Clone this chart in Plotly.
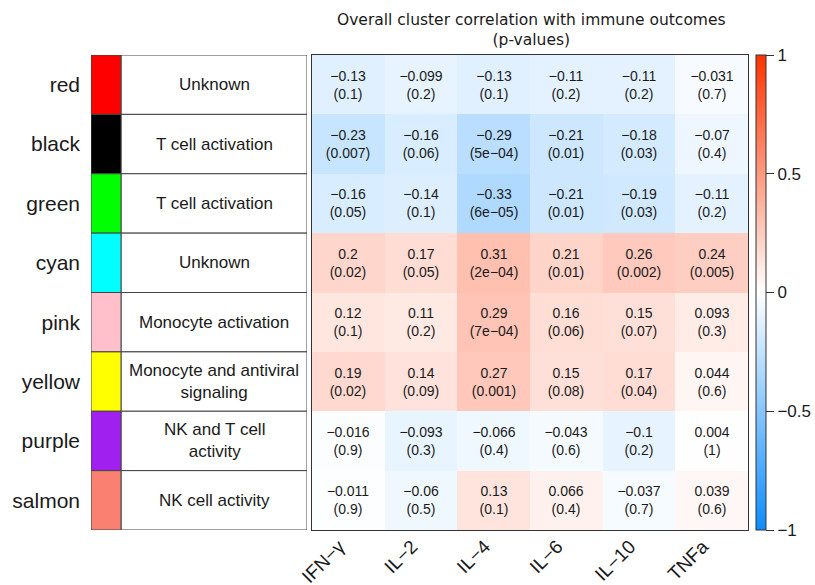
import plotly.graph_objects as go

W, H = 815, 585

modules = ["red", "black", "green", "cyan", "pink", "yellow", "purple", "salmon"]
module_colors = ["#FF0000", "#000000", "#00FF00", "#00FFFF", "#FFC0CB", "#FFFF00", "#A020F0", "#FA8072"]
descriptions = ["Unknown", "T cell activation", "T cell activation", "Unknown",
                "Monocyte activation", "Monocyte and antiviral<br>signaling",
                "NK and T cell<br>activity", "NK cell activity"]
cytokines = ["IFN−γ", "IL−2", "IL−4", "IL−6", "IL−10", "TNFa"]

corr = [
    [-0.13, -0.099, -0.13, -0.11, -0.11, -0.031],
    [-0.23, -0.16, -0.29, -0.21, -0.18, -0.07],
    [-0.16, -0.14, -0.33, -0.21, -0.19, -0.11],
    [0.2, 0.17, 0.31, 0.21, 0.26, 0.24],
    [0.12, 0.11, 0.29, 0.16, 0.15, 0.093],
    [0.19, 0.14, 0.27, 0.15, 0.17, 0.044],
    [-0.016, -0.093, -0.066, -0.043, -0.1, 0.004],
    [-0.011, -0.06, 0.13, 0.066, -0.037, 0.039],
]
pvals = [
    [0.1, 0.2, 0.1, 0.2, 0.2, 0.7],
    [0.007, 0.06, 0.0005, 0.01, 0.03, 0.4],
    [0.05, 0.1, 0.00006, 0.01, 0.03, 0.2],
    [0.02, 0.05, 0.0002, 0.01, 0.002, 0.005],
    [0.1, 0.2, 0.0007, 0.06, 0.07, 0.3],
    [0.02, 0.09, 0.001, 0.08, 0.04, 0.6],
    [0.9, 0.3, 0.4, 0.6, 0.2, 1],
    [0.9, 0.5, 0.1, 0.4, 0.7, 0.6],
]
cbar_ticks = [-1, -0.5, 0, 0.5, 1]

def fmt_r(v):
    return f"{v:g}".replace("-", "−")

def fmt_p(p):
    s = f"{p:.0e}" if p < 0.001 else f"{p:g}"
    return s.replace("-", "−")

text = [[f"{fmt_r(r)}<br>({fmt_p(p)})" for r, p in zip(rr, pp)] for rr, pp in zip(corr, pvals)]

def px(x):
    return x / W

def py(y):
    return 1 - y / H

TOP, BOT = 55, 530
FONT = "Liberation Sans, Arial, sans-serif"
TXT = "#1a1a1a"

fig = go.Figure()
fig.add_trace(go.Heatmap(
    z=corr, x=cytokines, y=modules, text=text, texttemplate="%{text}",
    textfont=dict(family=FONT, size=14, color=TXT),
    zmin=-1, zmax=1,
    colorscale=[[0, "rgb(13,140,255)"], [0.5, "rgb(255,255,255)"], [1, "rgb(255,51,0)"]],
    hoverinfo="skip",
    colorbar=dict(
        x=px(756), xanchor="left", xref="paper", thickness=10, thicknessmode="pixels",
        len=(BOT - TOP) / H, lenmode="fraction", y=py((TOP + BOT) / 2), yanchor="middle",
        outlinecolor="#333333", outlinewidth=1, xpad=0, ypad=0,
        tickvals=cbar_ticks, ticktext=[fmt_r(t) for t in cbar_ticks],
        ticks="outside", ticklen=8, tickcolor="#333333",
        tickfont=dict(family=FONT, size=17, color=TXT),
    ),
    xaxis="x", yaxis="y",
))

# left table: color column + description column
fig.add_trace(go.Scatter(x=[None], y=[None], xaxis="x2", yaxis="y2", showlegend=False, hoverinfo="skip"))
CW = 30 / 216
n = len(modules)
for i, (m, c, d) in enumerate(zip(modules, module_colors, descriptions)):
    fig.add_shape(type="rect", xref="x2", yref="y2", x0=0, x1=CW, y0=i, y1=i + 1,
                  fillcolor=c, line=dict(color="#444444", width=1), layer="above")
    fig.add_shape(type="rect", xref="x2", yref="y2", x0=CW, x1=1, y0=i, y1=i + 1,
                  fillcolor="white", line=dict(color="#444444", width=1), layer="below")
    fig.add_annotation(xref="x2", yref="y2", x=(CW + 1) / 2, y=i + 0.5, text=d, showarrow=False,
                       font=dict(family=FONT, size=17, color=TXT), align="center")

fig.add_annotation(xref="paper", yref="paper", x=px(531), y=py(9), yanchor="top",
                   text="Overall cluster correlation with immune outcomes<br>(p-values)",
                   showarrow=False, font=dict(family="DejaVu Sans, Verdana, sans-serif", size=15.5, color=TXT),
                   align="center")

fig.update_layout(
    width=W, height=H, margin=dict(l=0, r=0, t=0, b=0, autoexpand=False),
    paper_bgcolor="white", plot_bgcolor="white",
    xaxis=dict(domain=[px(312), px(748)], showline=True, mirror=True, linecolor="#333333", linewidth=1,
               tickangle=-45, tickfont=dict(family=FONT, size=19, color=TXT), showgrid=False,
               zeroline=False, ticks="", automargin=False, ticklabelshift=-9, ticklabelstandoff=-3),
    yaxis=dict(domain=[py(BOT), py(TOP)], autorange="reversed", showline=True, mirror=True,
               linecolor="#333333", linewidth=1, showticklabels=False, showgrid=False, zeroline=False,
               automargin=False),
    xaxis2=dict(domain=[px(91), px(307)], range=[0, 1], visible=False, fixedrange=True, automargin=False),
    yaxis2=dict(domain=[py(BOT), py(TOP)], range=[n, 0], showgrid=False, zeroline=False,
                showline=False, tickvals=[i + 0.5 for i in range(n)], ticktext=modules,
                tickfont=dict(family=FONT, size=21, color=TXT), ticks="", ticklabelstandoff=10,
                anchor="x2", automargin=False),
)

fig.write_html("out.html")
